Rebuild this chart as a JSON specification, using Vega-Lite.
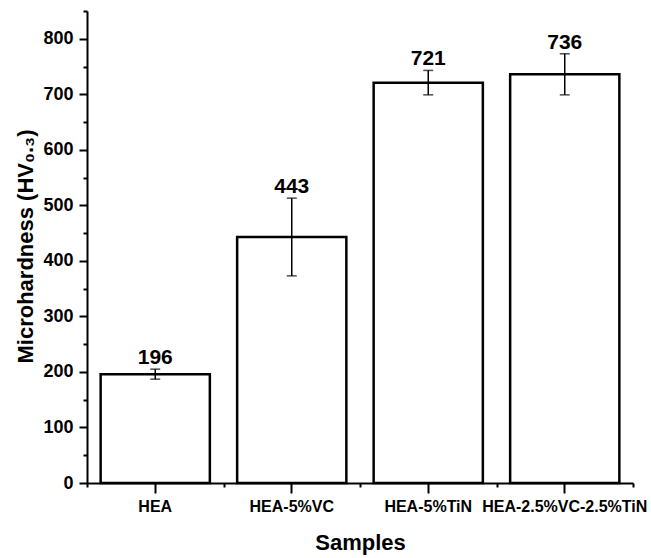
{
  "$schema": "https://vega.github.io/schema/vega-lite/v6.json",
  "width": 546,
  "height": 472,
  "autosize": {"type": "none"},
  "padding": {"left": 87, "top": 11, "right": 18, "bottom": 75},
  "background": "white",
  "config": {
    "view": {"stroke": null},
    "font": "Liberation Sans",
    "axis": {
      "domainColor": "black", "domainWidth": 2,
      "tickColor": "black", "tickWidth": 2,
      "labelColor": "black", "titleColor": "black",
      "labelFont": "Liberation Sans", "titleFont": "Liberation Sans",
      "labelFontWeight": "bold", "titleFontWeight": "bold",
      "grid": false
    }
  },
  "data": {
    "values": [
      {"Sample": "HEA", "Hardness": 196, "Low": 187, "High": 205},
      {"Sample": "HEA-5%VC", "Hardness": 443, "Low": 373, "High": 513},
      {"Sample": "HEA-5%TiN", "Hardness": 721, "Low": 699, "High": 743},
      {"Sample": "HEA-2.5%VC-2.5%TiN", "Hardness": 736, "Low": 699, "High": 773}
    ]
  },
  "layer": [
    {
      "mark": {"type": "bar", "fill": "white", "stroke": "black", "strokeWidth": 2.5, "width": {"band": 0.8}},
      "encoding": {
        "x": {
          "field": "Sample", "type": "nominal", "sort": null,
          "scale": {"paddingInner": 0, "paddingOuter": 0},
          "axis": {
            "labelAngle": 0, "labelFontSize": 16, "tickSize": 10, "labelPadding": 5,
            "title": "Samples", "titleFontSize": 22,
            "titleX": 273, "titleY": 66, "titleBaseline": "alphabetic", "titleAlign": "center"
          }
        },
        "y": {
          "field": "Hardness", "type": "quantitative",
          "scale": {"domain": [0, 850], "nice": false},
          "axis": {
            "values": [0, 100, 200, 300, 400, 500, 600, 700, 800],
            "tickSize": 8,
            "labelFontSize": 18, "labelPadding": 6,
            "title": "Microhardness (HV₀.₃)", "titleFontSize": 22,
            "titleX": -55, "titleY": 235, "titleAngle": -90,
            "titleBaseline": "alphabetic", "titleAlign": "center"
          }
        }
      }
    },
    {
      "mark": {"type": "rule", "color": "black", "strokeWidth": 1.5},
      "encoding": {
        "x": {
          "field": "Sample", "type": "nominal", "sort": null,
          "axis": {"orient": "bottom", "tickBand": "extent", "labels": false, "domain": false, "tickSize": 4, "title": null}
        },
        "y": {
          "field": "Low", "type": "quantitative",
          "axis": {"orient": "left", "values": [50, 150, 250, 350, 450, 550, 650, 750, 850], "labels": false, "domain": false, "tickSize": 4, "title": null}
        },
        "y2": {"field": "High"}
      }
    },
    {
      "mark": {"type": "tick", "color": "black", "size": 10, "thickness": 1.5},
      "encoding": {
        "x": {"field": "Sample", "type": "nominal", "sort": null, "axis": null},
        "y": {"field": "Low", "type": "quantitative", "axis": null}
      }
    },
    {
      "mark": {"type": "tick", "color": "black", "size": 10, "thickness": 1.5},
      "encoding": {
        "x": {"field": "Sample", "type": "nominal", "sort": null, "axis": null},
        "y": {"field": "High", "type": "quantitative", "axis": null}
      }
    },
    {
      "mark": {"type": "text", "font": "Liberation Sans", "fontSize": 21, "fontWeight": "bold", "baseline": "alphabetic", "dy": -5, "color": "black"},
      "encoding": {
        "x": {"field": "Sample", "type": "nominal", "sort": null, "axis": null},
        "y": {"field": "High", "type": "quantitative", "axis": null},
        "text": {"field": "Hardness", "type": "quantitative"}
      }
    }
  ],
  "resolve": {"axis": {"x": "independent", "y": "independent"}}
}
